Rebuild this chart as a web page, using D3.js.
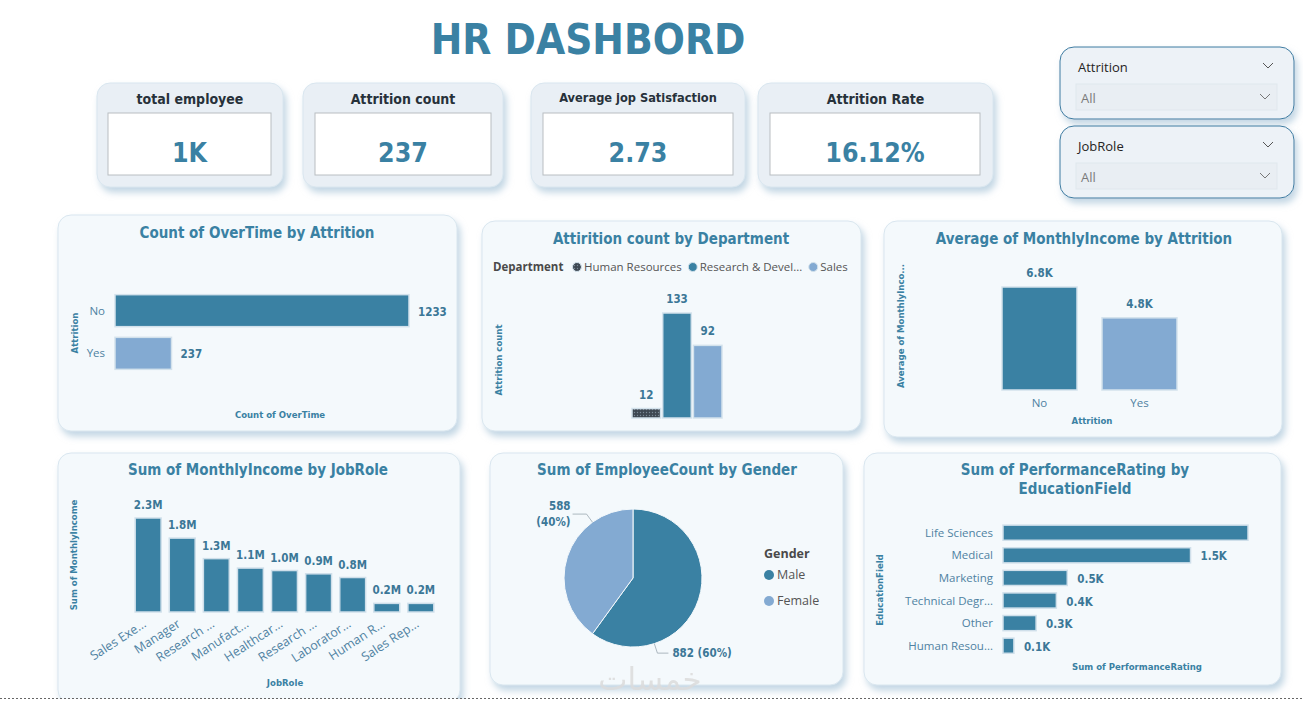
<!DOCTYPE html>
<html>
<head>
<meta charset="utf-8">
<script src="https://cdn.jsdelivr.net/npm/d3@7"></script>
<style>
  body { margin: 0; background: #fff; }
  svg { display: block; }
</style>
</head>
<body>
<svg width="1303" height="711"></svg>
<script>
// ---- data ----
const kpiTitles = ["total employee", "Attrition count", "Average jop Satisfaction", "Attrition Rate"];
const kpiValues = ["1K", "237", "2.73", "16.12%"];

const slicerTitles = ["Attrition", "JobRole"];

const overtimeCats = ["No", "Yes"];
const overtimeCounts = [1233, 237];

const departments = ["Human Resources", "Research & Development", "Sales"];
const deptLegend = ["Human Resources", "Research & Devel...", "Sales"];
const deptAttrition = [12, 133, 92];

const attritionCats = ["No", "Yes"];
const avgIncome = [6833, 4787];

const jobRoles = ["Sales Executive", "Manager", "Research Director", "Manufacturing Director",
  "Healthcare Representative", "Research Scientist", "Laboratory Technician", "Human Resources", "Sales Representative"];
const jobRoleTicks = ["Sales Exe...", "Manager", "Research ...", "Manufact...", "Healthcar...",
  "Research ...", "Laborator...", "Human R...", "Sales Rep..."];
const jobIncome = [2290000, 1800000, 1300000, 1070000, 1010000, 930000, 840000, 210000, 210000];

const genders = ["Male", "Female"];
const genderCounts = [882, 588];

const eduFields = ["Life Sciences", "Medical", "Marketing", "Technical Degree", "Other", "Human Resources"];
const eduTicks = ["Life Sciences", "Medical", "Marketing", "Technical Degr...", "Other", "Human Resou..."];
const perfRating = [1910, 1462, 501, 416, 258, 85];

// ---- styles ----
const TEAL = "#3a81a3", LIGHT = "#83aad2", LABEL = "#3b7797", TICK = "#4f82a2";
const TITLE_FONT = "'DejaVu Sans Condensed', 'DejaVu Sans', sans-serif";
const BODY_FONT = "'Open Sans', 'Noto Sans', sans-serif";

var svg = d3.select("svg");

var defs = svg.append("defs");
defs.append("filter").attr("id", "shadow").attr("x", "-10%").attr("y", "-10%")
    .attr("width", "125%").attr("height", "130%")
  .append("feDropShadow")
    .attr("dx", 3).attr("dy", 5).attr("stdDeviation", 3.5)
    .attr("flood-color", "#a8c4d8").attr("flood-opacity", 0.7);

var pat = defs.append("pattern").attr("id", "hrdots")
    .attr("width", 3).attr("height", 3).attr("patternUnits", "userSpaceOnUse");
pat.append("rect").attr("width", 3).attr("height", 3).attr("fill", "#3e4852");
pat.append("circle").attr("cx", 1.5).attr("cy", 1.5).attr("r", 0.7).attr("fill", "#7a8a96");

function panel(x, y, w, h, fill) {
  svg.append("rect")
    .attr("x", x).attr("y", y).attr("width", w).attr("height", h)
    .attr("rx", 13)
    .attr("fill", fill || "#f4f9fc")
    .attr("stroke", "#d9e6ef")
    .attr("filter", "url(#shadow)");
}

function title(x, y, txt, size) {
  return svg.append("text")
    .attr("x", x).attr("y", y)
    .attr("text-anchor", "middle")
    .style("font-family", TITLE_FONT)
    .style("font-weight", "bold")
    .style("font-size", (size || 15) + "px")
    .style("fill", TEAL)
    .text(txt);
}

function axisTitle(x, y, txt, rotate) {
  svg.append("text")
    .attr("transform", "translate(" + x + "," + y + ")" + (rotate ? " rotate(-90)" : ""))
    .attr("text-anchor", "middle")
    .style("font-family", TITLE_FONT)
    .style("font-weight", "bold")
    .style("font-size", "9.5px")
    .style("fill", TEAL)
    .text(txt);
}

function dataLabel(x, y, txt, anchor) {
  svg.append("text")
    .attr("x", x).attr("y", y)
    .attr("text-anchor", anchor || "middle")
    .style("font-family", TITLE_FONT)
    .style("font-weight", "bold")
    .style("font-size", "11.5px")
    .style("fill", LABEL)
    .text(txt);
}

function tickText(x, y, txt, anchor) {
  return svg.append("text")
    .attr("x", x).attr("y", y)
    .attr("text-anchor", anchor || "middle")
    .style("font-family", BODY_FONT)
    .style("font-size", "11.5px")
    .style("fill", TICK)
    .text(txt);
}

function chevron(x, y, color) {
  svg.append("path")
    .attr("d", "M" + (x - 5) + "," + (y - 3) + " L" + x + "," + (y + 2) + " L" + (x + 5) + "," + (y - 3))
    .attr("fill", "none").attr("stroke", color || "#555").attr("stroke-width", 1);
}

// ---- header ----
svg.append("text")
  .attr("x", 588).attr("y", 54)
  .attr("text-anchor", "middle")
  .style("font-family", TITLE_FONT)
  .style("font-weight", "bold")
  .style("font-size", "42px")
  .style("fill", TEAL)
  .text("HR DASHBORD");

// KPI cards
var kpiBoxes = [
  { x: 97, w: 186, ix: 108, iw: 163 },
  { x: 303, w: 200, ix: 315, iw: 176 },
  { x: 531, w: 214, ix: 543, iw: 190 },
  { x: 758, w: 235, ix: 770, iw: 210 }
];
kpiBoxes.forEach(function(b, i) {
  panel(b.x, 83, b.w, 104, "#e9eff5");
  svg.append("rect")
    .attr("x", b.ix).attr("y", 113).attr("width", b.iw).attr("height", 62)
    .attr("fill", "#fff").attr("stroke", "#b9bec2");
  svg.append("text")
    .attr("x", b.x + b.w / 2).attr("y", i == 2 ? 102 : 104)
    .attr("text-anchor", "middle")
    .style("font-family", TITLE_FONT)
    .style("font-weight", "bold")
    .style("font-size", i == 2 ? "12.7px" : "14px")
    .style("fill", "#27313a")
    .text(kpiTitles[i]);
  svg.append("text")
    .attr("x", b.ix + b.iw / 2).attr("y", 162)
    .attr("text-anchor", "middle")
    .style("font-family", TITLE_FONT)
    .style("font-weight", "bold")
    .style("font-size", "26.5px")
    .style("fill", TEAL)
    .text(kpiValues[i]);
});

// slicers
slicerTitles.forEach(function(t, i) {
  var y0 = 47 + i * 79;
  svg.append("rect")
    .attr("x", 1060).attr("y", y0).attr("width", 234).attr("height", 72)
    .attr("rx", 14).attr("fill", "#edf2f7").attr("stroke", "#3d7ba1")
    .attr("filter", "url(#shadow)");
  svg.append("text")
    .attr("x", 1078).attr("y", y0 + 25)
    .style("font-family", "'Segoe UI', 'Open Sans', sans-serif")
    .style("font-size", "13px")
    .style("fill", "#252423")
    .text(t);
  chevron(1268, y0 + 19);
  svg.append("rect")
    .attr("x", 1076).attr("y", y0 + 37).attr("width", 201).attr("height", 26)
    .attr("fill", "#e9eef3").attr("stroke", "#e0e7ed");
  svg.append("text")
    .attr("x", 1081).attr("y", y0 + 56)
    .style("font-family", "'Segoe UI', 'Open Sans', sans-serif")
    .style("font-size", "13px")
    .style("fill", "#7a7a7a")
    .text("All");
  chevron(1265, y0 + 50, "#777");
});

// ---- chart 1: Count of OverTime by Attrition ----
panel(58, 215, 399, 216);
title(257, 238, "Count of OverTime by Attrition");
var y1 = d3.scaleBand().domain(overtimeCats).range([284, 380]).padding(0.25);
var x1 = d3.scaleLinear().domain([0, 1233]).range([115, 409]);
svg.append("g").selectAll("rect")
  .data(overtimeCats).enter().append("rect")
  .attr("x", x1(0))
  .attr("y", d => y1(d))
  .attr("width", (d, i) => x1(overtimeCounts[i]) - x1(0))
  .attr("height", y1.bandwidth())
  .attr("fill", (d, i) => i == 0 ? TEAL : LIGHT)
  .attr("stroke", "#d3e2ec").attr("stroke-width", 1.5);
overtimeCats.forEach(function(c, i) {
  tickText(105, y1(c) + y1.bandwidth() / 2 + 4, c, "end");
  dataLabel(x1(overtimeCounts[i]) + 9, y1(c) + y1.bandwidth() / 2 + 5, overtimeCounts[i], "start");
});
axisTitle(78, 333, "Attrition", true);
axisTitle(280, 418, "Count of OverTime");

// ---- chart 2: Attirition count by Department ----
panel(482, 221, 379, 210);
title(671, 244, "Attirition count by Department");
svg.append("text")
  .attr("x", 493).attr("y", 271)
  .style("font-family", BODY_FONT).style("font-weight", "bold")
  .style("font-size", "11.5px").style("fill", "#4a4a4a")
  .text("Department");
var legX = 577;
deptLegend.forEach(function(d, i) {
  svg.append("circle").attr("cx", legX).attr("cy", 267).attr("r", 4.5)
    .attr("fill", i == 0 ? "url(#hrdots)" : (i == 1 ? TEAL : LIGHT))
    .attr("stroke", "#d3e2ec");
  var t = svg.append("text")
    .attr("x", legX + 7).attr("y", 271)
    .style("font-family", BODY_FONT).style("font-size", "11.5px")
    .style("fill", "#555")
    .text(d);
  legX += 7 + t.node().getComputedTextLength() + 11;
});
var x2 = d3.scaleBand().domain(departments).range([632, 722]).paddingInner(0.07);
var y2 = d3.scaleLinear().domain([0, 133]).range([418, 313]);
svg.append("g").selectAll("rect")
  .data(departments).enter().append("rect")
  .attr("x", d => x2(d))
  .attr("y", (d, i) => y2(deptAttrition[i]))
  .attr("width", x2.bandwidth())
  .attr("height", (d, i) => y2(0) - y2(deptAttrition[i]))
  .attr("fill", (d, i) => i == 0 ? "url(#hrdots)" : (i == 1 ? TEAL : LIGHT))
  .attr("stroke", "#d3e2ec").attr("stroke-width", 1.5);
departments.forEach(function(d, i) {
  dataLabel(x2(d) + x2.bandwidth() / 2, y2(deptAttrition[i]) - 10, deptAttrition[i]);
});
axisTitle(502, 360, "Attrition count", true);

// ---- chart 3: Average of MonthlyIncome by Attrition ----
panel(884, 221, 398, 216);
title(1084, 244, "Average of MonthlyIncome by Attrition");
var x3 = d3.scaleBand().domain(attritionCats).range([977, 1202]).padding(0.25);
var y3 = d3.scaleLinear().domain([0, 6833]).range([390, 287]);
svg.append("g").selectAll("rect")
  .data(attritionCats).enter().append("rect")
  .attr("x", d => x3(d))
  .attr("y", (d, i) => y3(avgIncome[i]))
  .attr("width", x3.bandwidth())
  .attr("height", (d, i) => y3(0) - y3(avgIncome[i]))
  .attr("fill", (d, i) => i == 0 ? TEAL : LIGHT)
  .attr("stroke", "#d3e2ec").attr("stroke-width", 1.5);
attritionCats.forEach(function(c, i) {
  dataLabel(x3(c) + x3.bandwidth() / 2, y3(avgIncome[i]) - 10, (avgIncome[i] / 1000).toFixed(1) + "K");
  tickText(x3(c) + x3.bandwidth() / 2, 407, c);
});
axisTitle(1092, 424, "Attrition");
axisTitle(904, 326, "Average of MonthlyInco...", true);

// ---- chart 4: Sum of MonthlyIncome by JobRole ----
panel(58, 453, 402, 250);
title(258, 475, "Sum of MonthlyIncome by JobRole");
var x4 = d3.scaleBand().domain(jobRoles).range([127, 442]).padding(0.24);
var y4 = d3.scaleLinear().domain([0, 2290000]).range([612, 518]);
svg.append("g").selectAll("rect")
  .data(jobRoles).enter().append("rect")
  .attr("x", d => x4(d))
  .attr("y", (d, i) => y4(jobIncome[i]))
  .attr("width", x4.bandwidth())
  .attr("height", (d, i) => y4(0) - y4(jobIncome[i]))
  .attr("fill", TEAL)
  .attr("stroke", "#cfdfea").attr("stroke-width", 1.5);
jobRoles.forEach(function(r, i) {
  var cx = x4(r) + x4.bandwidth() / 2;
  dataLabel(cx, y4(jobIncome[i]) - 9, (jobIncome[i] / 1e6).toFixed(1) + "M");
  svg.append("text")
    .attr("transform", "translate(" + (cx - 1) + ",626) rotate(-33)")
    .attr("text-anchor", "end")
    .style("font-family", BODY_FONT)
    .style("font-size", "12.5px")
    .style("fill", TICK)
    .text(jobRoleTicks[i]);
});
axisTitle(77, 555, "Sum of MonthlyIncome", true);
axisTitle(285, 686, "JobRole");

// ---- chart 5: Sum of EmployeeCount by Gender ----
panel(490, 453, 353, 232);
title(667, 475, "Sum of EmployeeCount by Gender");
var cx5 = 633, cy5 = 578, r5 = 69;
var pie = d3.pie().sort(null).value(d => d);
var arcs = pie(genderCounts);
var arc = d3.arc().innerRadius(0).outerRadius(r5);
svg.append("g").attr("transform", "translate(" + cx5 + "," + cy5 + ")")
  .selectAll("path").data(arcs).enter().append("path")
  .attr("d", arc)
  .attr("fill", (d, i) => i == 0 ? TEAL : LIGHT)
  .attr("stroke", "#f4f9fc").attr("stroke-width", 1);
var total5 = d3.sum(genderCounts);
arcs.forEach(function(a, i) {
  var ang = a.startAngle + 0.75 * (a.endAngle - a.startAngle);
  var p0 = [cx5 + r5 * Math.sin(ang), cy5 - r5 * Math.cos(ang)];
  var p1 = [cx5 + (r5 + 10) * Math.sin(ang), cy5 - (r5 + 10) * Math.cos(ang)];
  var right = Math.sin(ang) > 0;
  var p2 = [p1[0] + (right ? 11 : -14), p1[1]];
  svg.append("path")
    .attr("d", "M" + p0 + "L" + p1 + "L" + p2)
    .attr("fill", "none").attr("stroke", "#9aa7b0").attr("stroke-width", 0.8);
  var pct = "(" + Math.round(genderCounts[i] / total5 * 100) + "%)";
  if (right) {
    dataLabel(p2[0] + 4, p2[1] + 4, genderCounts[i] + " " + pct, "start");
  } else {
    dataLabel(p2[0] - 2, p2[1] - 4, genderCounts[i], "end");
    dataLabel(p2[0] - 2, p2[1] + 12, pct, "end");
  }
});
svg.append("text")
  .attr("x", 764).attr("y", 558)
  .style("font-family", BODY_FONT).style("font-weight", "bold")
  .style("font-size", "12.5px").style("fill", "#4a4a4a")
  .text("Gender");
genders.forEach(function(g, i) {
  svg.append("circle").attr("cx", 769).attr("cy", 575 + i * 26).attr("r", 5)
    .attr("fill", i == 0 ? TEAL : LIGHT);
  svg.append("text")
    .attr("x", 777).attr("y", 579 + i * 26)
    .style("font-family", BODY_FONT).style("font-size", "12.5px")
    .style("fill", "#555")
    .text(g);
});

// ---- chart 6: Sum of PerformanceRating by EducationField ----
panel(864, 453, 417, 232);
title(1075, 475, "Sum of PerformanceRating by");
title(1075, 494, "EducationField");
var y6 = d3.scaleBand().domain(eduFields).range([521.4, 657]).paddingInner(0.33).paddingOuter(0.165);
var x6 = d3.scaleLinear().domain([0, 1910]).range([1003, 1248]);
svg.append("g").selectAll("rect")
  .data(eduFields).enter().append("rect")
  .attr("x", x6(0))
  .attr("y", d => y6(d))
  .attr("width", (d, i) => x6(perfRating[i]) - x6(0))
  .attr("height", y6.bandwidth())
  .attr("fill", TEAL)
  .attr("stroke", "#cfdfea").attr("stroke-width", 1.5);
eduFields.forEach(function(f, i) {
  var yc = y6(f) + y6.bandwidth() / 2;
  tickText(993, yc + 4, eduTicks[i], "end");
  var lx = x6(perfRating[i]) + 10;
  // label dropped where it would not fit inside the panel
  if (lx + 30 < 1270) dataLabel(lx, yc + 5, (perfRating[i] / 1000).toFixed(1) + "K", "start");
});
axisTitle(883, 590, "EducationField", true);
axisTitle(1137, 670, "Sum of PerformanceRating");

// page bottom
svg.append("line")
  .attr("x1", 0).attr("x2", 1303).attr("y1", 698.5).attr("y2", 698.5)
  .attr("stroke", "#666").attr("stroke-dasharray", "2,2");
svg.append("rect").attr("x", 0).attr("y", 699).attr("width", 1303).attr("height", 12).attr("fill", "#fff");

// faint watermark
svg.append("text")
  .attr("x", 650).attr("y", 690)
  .attr("text-anchor", "middle")
  .style("font-family", "'DejaVu Sans', sans-serif")
  .style("font-size", "31px")
  .style("fill", "#dcdcdc")
  .style("opacity", 0.85)
  .text("خمسات");
</script>
</body>
</html>
